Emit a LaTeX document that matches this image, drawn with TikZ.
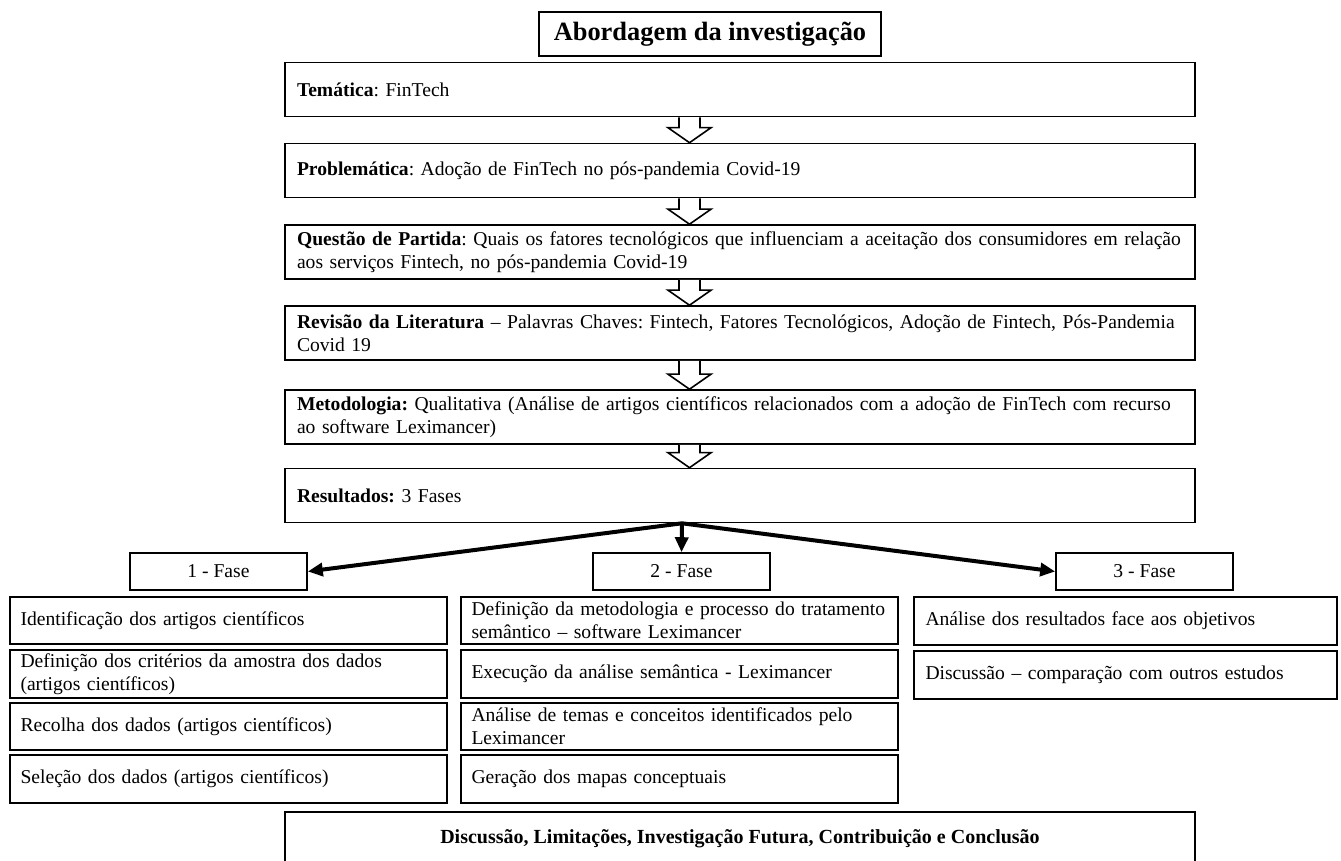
\documentclass[tikz,border=0pt]{standalone}
\usepackage{fontspec}
\setmainfont{Liberation Serif}
\usetikzlibrary{arrows.meta, calc}
\frenchspacing

\tikzset{
  box/.style={draw, line width=0.8pt, inner sep=0pt, font=\fontsize{9.8}{11.5}\selectfont},
  titlebox/.style={box, minimum width=171pt, minimum height=22pt, font=\fontsize{13.2}{15}\selectfont\bfseries},
  mainbox/.style={box, minimum width=455pt, minimum height=27pt, text width=443pt, align=left},
  fasebox/.style={box, minimum width=88.5pt, minimum height=18.5pt},
  colbox/.style={box, minimum width=218.5pt, minimum height=23.75pt, text width=208pt, align=left},
  rightbox/.style={box, minimum width=211.5pt, minimum height=24pt, text width=200pt, align=left},
  blockline/.style={draw, fill=white, line width=0.8pt},
  fasearrow/.style={line width=2pt, -{Triangle[length=7.5pt, width=6.5pt]}}
}

% hollow down arrow between two stacked boxes
\newcommand{\blockarrow}[2]{%
  \draw[blockline] let \p1=(#1.south), \p2=(#2.north) in
    (\x1-30.5pt,\y1) -- (\x1-30.5pt,\y2+7.5pt) -- (\x1-36pt,\y2+7.5pt)
    -- (\x1-25.25pt,\y2) -- (\x1-14.5pt,\y2+7.5pt) -- (\x1-20pt,\y2+7.5pt)
    -- (\x1-20pt,\y1);
}

\begin{document}
\begin{tikzpicture}[x=0.5pt, y=-0.5pt]
\useasboundingbox (0,0) rectangle (1341,861);

\node[titlebox] (title) at (710,34) {Abordagem da investigação};

\node[mainbox] (tema) at (740,89.5) {\textbf{Temática}: FinTech};
\node[mainbox] (prob) at (740,170.5) {\textbf{Problemática}: Adoção de FinTech no pós-pandemia Covid-19};
\node[mainbox] (quest) at (740,252) {\textbf{Questão de Partida}: Quais os fatores tecnológicos que influenciam a aceitação dos consumidores em relação\\aos serviços Fintech, no pós-pandemia Covid-19};
\node[mainbox] (rev) at (740,333) {\textbf{Revisão da Literatura} – Palavras Chaves: Fintech, Fatores Tecnológicos, Adoção de Fintech, Pós-Pandemia\\Covid 19};
\node[mainbox] (metod) at (740,417) {\textbf{Metodologia:} Qualitativa (Análise de artigos científicos relacionados com a adoção de FinTech com recurso\\ao software Leximancer)};
\node[mainbox] (result) at (740,495.5) {\textbf{Resultados:} 3 Fases};

\blockarrow{tema}{prob}
\blockarrow{prob}{quest}
\blockarrow{quest}{rev}
\blockarrow{rev}{metod}
\blockarrow{metod}{result}

% phases
\node[fasebox] (fase1) at (218.5,571.5) {1 - Fase};
\node[fasebox] (fase2) at (681.5,571.5) {2 - Fase};
\node[fasebox] (fase3) at (1144.5,571.5) {3 - Fase};

\coordinate (split) at ($(result.south)+(-29pt,0)$);
\draw[fasearrow] (split) -- (fase1.east);
\draw[fasearrow] (split) -- (fase2.north);
\draw[fasearrow] (split) -- (fase3.west);

% fase 1
\node[colbox] (f1a) at (228.5,620.5) {Identificação dos artigos científicos};
\node[colbox] (f1b) at (228.5,674) {Definição dos critérios da amostra dos dados\\(artigos científicos)};
\node[colbox] (f1c) at (228.5,726.5) {Recolha dos dados (artigos científicos)};
\node[colbox] (f1d) at (228.5,779) {Seleção dos dados (artigos científicos)};

% fase 2
\node[colbox] (f2a) at (679.5,620.5) {Definição da metodologia e processo do tratamento\\semântico – software Leximancer};
\node[colbox] (f2b) at (679.5,674) {Execução da análise semântica - Leximancer};
\node[colbox] (f2c) at (679.5,726.5) {Análise de temas e conceitos identificados pelo\\Leximancer};
\node[colbox] (f2d) at (679.5,779) {Geração dos mapas conceptuais};

% fase 3
\node[rightbox] (f3a) at (1125.5,621) {Análise dos resultados face aos objetivos};
\node[rightbox] (f3b) at (1125.5,675) {Discussão – comparação com outros estudos};

\node[box, minimum width=455pt, minimum height=27pt, font=\fontsize{10}{11.5}\selectfont\bfseries] (concl) at (740,839)
  {Discussão, Limitações, Investigação Futura, Contribuição e Conclusão};
\end{tikzpicture}
\end{document}
